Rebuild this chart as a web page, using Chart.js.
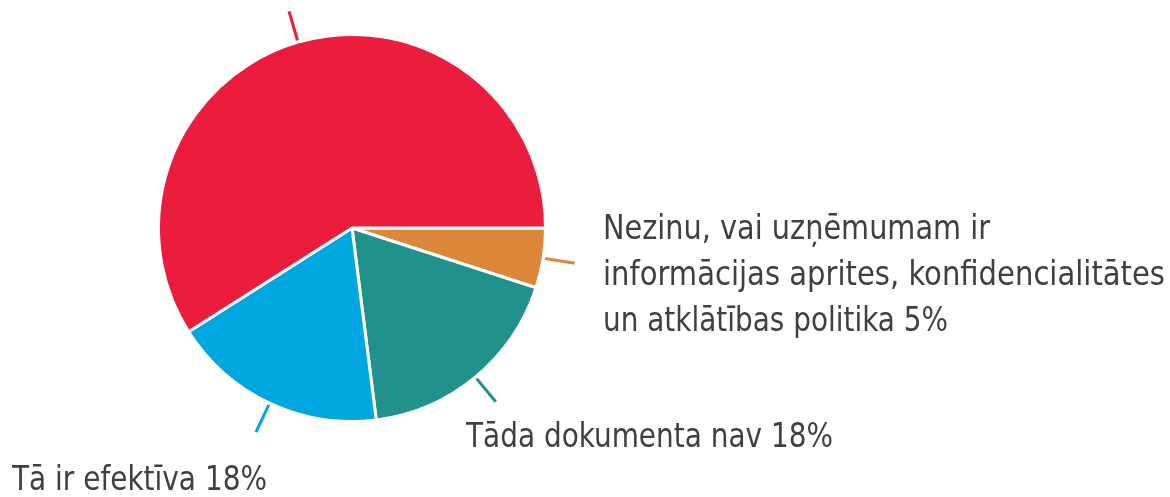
<!DOCTYPE html>
<html lang="lv">
<head>
    <meta charset="UTF-8">
    <title>Informācijas aprites politika</title>
    <script src="https://cdn.jsdelivr.net/npm/chart.js"></script>
    <style>
        /* full window canvas */
        html, body {
            margin: 0;
            padding: 0;
            background: #ffffff;
        }
        .wrap {
            width: 1170px;
            height: 497px;
        }
    </style>
</head>
<body>

<div class="wrap">
    <canvas id="pieChart" width="1170" height="497"></canvas>
</div>

<script>
    // Chart data
    const categories = [
        'Nezinu, vai uzņēmumam ir informācijas aprites, konfidencialitātes un atklātības politika',
        'Tāda dokumenta nav',
        'Tā ir efektīva',
        'Cits'
    ];
    const values = [5, 18, 18, 59];
    const sliceColors = ['#DD873A', '#21918C', '#00A6E0', '#EC1C3D'];

    // Label text lines (the last slice's label lies outside the picture)
    const labelLines = [
        ['Nezinu, vai uzņēmumam ir', 'informācijas aprites, konfidencialitātes', 'un atklātības politika 5%'],
        ['Tāda dokumenta nav 18%'],
        ['Tā ir efektīva 18%'],
        []
    ];

    // where each label block goes: x, first baseline, and the width of each line
    const labelSpots = [
        { x: 603, y: 239, gap: 46, widths: [387, 562, 345] },
        { x: 466, y: 447, gap: 46, widths: [367] },
        { x: 12, y: 490, gap: 46, widths: [255] },
        { x: 0, y: 0, gap: 0, widths: [] }
    ];

    // Leader lines + labels plugin
    const calloutPlugin = {
        id: 'callouts',
        afterDatasetsDraw(chart) {
            const ctx = chart.ctx;
            const meta = chart.getDatasetMeta(0);
            meta.data.forEach((arc, i) => {
                const mid = (arc.startAngle + arc.endAngle) / 2;
                const r1 = arc.outerRadius + 2;
                const r2 = arc.outerRadius + 32;
                ctx.save();
                ctx.strokeStyle = sliceColors[i];
                ctx.lineWidth = 3;
                ctx.beginPath();
                ctx.moveTo(arc.x + Math.cos(mid) * r1, arc.y + Math.sin(mid) * r1);
                ctx.lineTo(arc.x + Math.cos(mid) * r2, arc.y + Math.sin(mid) * r2);
                ctx.stroke();
                ctx.restore();

                const spot = labelSpots[i];
                labelLines[i].forEach((line, j) => {
                    ctx.save();
                    ctx.font = '33px "DejaVu Sans Condensed", "DejaVu Sans", sans-serif';
                    ctx.fillStyle = '#404040';
                    ctx.textBaseline = 'alphabetic';
                    const w = ctx.measureText(line).width;
                    const sx = spot.widths[j] / w;
                    ctx.translate(spot.x, spot.y + j * spot.gap);
                    ctx.scale(sx, 1);
                    ctx.fillText(line, 0, 0);
                    ctx.restore();
                });
            });
        }
    };

    const ctx = document.getElementById('pieChart').getContext('2d');
    const pieChart = new Chart(ctx, {
        type: 'pie',
        data: {
            labels: categories,
            datasets: [{
                data: values,
                backgroundColor: sliceColors,
                borderColor: '#ffffff',
                borderWidth: 3
            }]
        },
        options: {
            responsive: false,
            animation: false,
            rotation: 90,
            layout: {
                padding: { left: 157, right: 623, top: 33, bottom: 74 }
            },
            plugins: {
                legend: { display: false },
                tooltip: { enabled: false }
            }
        },
        plugins: [calloutPlugin]
    });
</script>

</body>
</html>
